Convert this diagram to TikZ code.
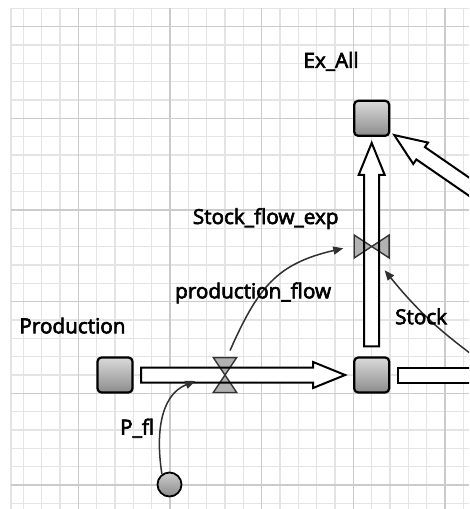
\documentclass[tikz,border=0pt]{standalone}
\usepackage{fontspec}
\setmainfont{Open Sans}
\newfontfamily\lblfont[FakeBold=3]{Open Sans}
\usetikzlibrary{calc,arrows.meta}
\definecolor{gridminor}{HTML}{E4E4E4}
\definecolor{gridmajor}{HTML}{CBCBCB}
\definecolor{conncol}{HTML}{303030}
\definecolor{valvecol}{HTML}{B2B2B2}
\definecolor{stocktop}{HTML}{DADADA}
\definecolor{stockbot}{HTML}{8C8C8C}
\newcommand\pipeshape[3]{%
 \coordinate (#1kh) at ($(#3)!32pt!(#2)$);
 \coordinate (#1ka) at ($(#2)!7.5pt!90:(#3)$);
 \coordinate (#1kb) at ($(#1kh)!7.5pt!90:(#3)$);
 \coordinate (#1kc) at ($(#1kh)!13pt!90:(#3)$);
 \coordinate (#1kd) at ($(#1kh)!13pt!-90:(#3)$);
 \coordinate (#1ke) at ($(#1kh)!7.5pt!-90:(#3)$);
 \coordinate (#1kf) at ($(#2)!7.5pt!-90:(#3)$);
}
\newcommand\pipeoutline[2]{(#1ka) -- (#1kb) -- (#1kc) -- (#2) -- (#1kd) -- (#1ke) -- (#1kf) -- cycle}
\begin{document}
\begin{tikzpicture}[x=1pt,y=-1pt,
  stock/.style={draw=black, line width=2.2pt, rounded corners=4pt, minimum size=35pt, inner sep=0pt, top color=stocktop, bottom color=stockbot},
  valvebox/.style={inner sep=0pt, draw=none},
  valvetri/.style={fill=valvecol, draw=black!80, line width=1.4pt, line join=miter},
  pipefill/.style={fill=white, draw=none},
  pipeline/.style={draw=black, line width=2pt, line join=miter},
  conn/.style={draw=conncol, line width=1.5pt, -{Triangle[length=10pt,width=8pt]}},
  lbl/.style={anchor=base west, inner sep=0pt, font=\lblfont\fontsize{20.7}{24}\selectfont, text=black},
  auxcircle/.style={circle, draw=black, line width=1.8pt, minimum size=24pt, inner sep=0pt, top color=black!20, bottom color=black!45}
]
\useasboundingbox (0,0) rectangle (469,509);
\clip (0,0) rectangle (469,509);
\fill[white] (0,0) rectangle (469,509);
% grid
\foreach \i [evaluate=\i as \yy using 8.333+18.333*\i] in {0,...,27}
  \draw[gridminor, line width=1.3pt] (11,\yy) -- (469,\yy);
\foreach \i [evaluate=\i as \xx using 4.99+18.333*\i] in {1,...,25}
  \draw[gridminor, line width=1.3pt] (\xx,8.333) -- (\xx,509);
\draw[gridminor, line width=1.3pt] (11,8.333) -- (11,509);
\foreach \i [evaluate=\i as \yy using 26.667+91.667*\i] in {0,...,5}
  \draw[gridmajor, line width=1.4pt] (11,\yy) -- (469,\yy);
\foreach \i [evaluate=\i as \xx using 78.33+91.667*\i] in {0,...,4}
  \draw[gridmajor, line width=1.4pt] (\xx,8.333) -- (\xx,509);

% stocks
\node[stock] (prod) at (115,375) {};
\node[stock] (stk) at (371.7,375) {};
\node[stock] (exall) at (371.7,118.3) {};

% valves (boxes)
\node[valvebox, minimum width=23pt, minimum height=34.5pt] (pfv) at (225,375) {};
\node[valvebox, minimum width=34.5pt, minimum height=22.5pt] (sfv) at (371.7,246.5) {};

% pipe geometry
\coordinate (p1s) at ($(prod.east)+(7.5,0)$);
\coordinate (p1t) at ($(stk.west)+(-8,0)$);
\coordinate (p2s) at ($(stk.north)+(0,-10)$);
\coordinate (p2t) at ($(exall.south)+(0,6)$);
\coordinate (p3t) at ($(exall.south east)+(4,-1.8)$);
\coordinate (p3s) at ($(p3t)+(200,138)$);
\coordinate (p4s) at ($(stk.east)+(7.5,0)$);
\coordinate (p4t) at (490,375);
\pipeshape{p1}{p1s}{p1t}
\pipeshape{p2}{p2s}{p2t}
\pipeshape{p3}{p3s}{p3t}

% pipe fills
\fill[pipefill] \pipeoutline{p1}{p1t};
\fill[pipefill] \pipeoutline{p2}{p2t};
\fill[pipefill] \pipeoutline{p3}{p3t};
\fill[pipefill] ($(p4s)+(0,-7.5)$) rectangle ($(p4t)+(0,7.5)$);

% valve triangles
\draw[valvetri] (pfv.north west) -- (pfv.north east) -- (pfv.center) -- cycle;
\draw[valvetri] (pfv.south west) -- (pfv.south east) -- (pfv.center) -- cycle;
\draw[valvetri] (sfv.north west) -- (sfv.south west) -- (sfv.center) -- cycle;
\draw[valvetri] (sfv.north east) -- (sfv.south east) -- (sfv.center) -- cycle;

% pipe outlines
\draw[pipeline] \pipeoutline{p1}{p1t};
\draw[pipeline] \pipeoutline{p2}{p2t};
\draw[pipeline] \pipeoutline{p3}{p3t};
\draw[pipeline] ($(p4s)+(0,-7.5)$) rectangle ($(p4t)+(0,7.5)$);

% auxiliary
\node[auxcircle] (pfl) at (169.5,484.5) {};

% connectors
\coordinate (stksrc) at (482,362);
\draw[conn] ($(pfv.north)+(5,-7)$) to[out=66,in=193,looseness=1.15] ($(sfv.west)+(-11,1.8)$);
\draw[conn] (stksrc) to[out=144,in=309] ($(sfv.south east)+(-4.5,12.3)$);
\draw[conn] (pfl.126) to[out=99,in=202] ($(pfv.west)+(-18,6)$);

% labels
\node[lbl] (lexall) at (303.3,67.7) {Ex\_All};
\node[lbl] (lsfe) at (192.7,224) {Stock\_flow\_exp};
\node[lbl] (lpf) at (175,298.3) {production\_flow};
\node[lbl] (lprod) at (19.3,333.3) {Production};
\node[lbl] (lstock) at (395,324.2) {Stock};
\node[lbl] (lpfl) at (120,434.5) {P\_fl};
\end{tikzpicture}
\end{document}
